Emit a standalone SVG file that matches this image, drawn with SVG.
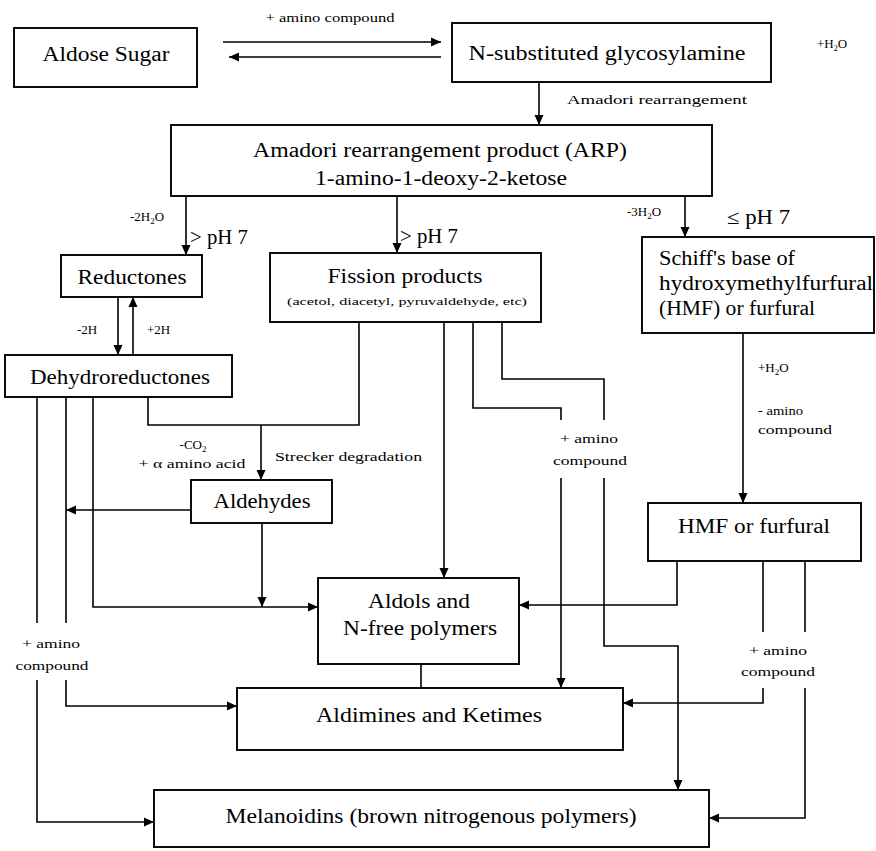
<svg xmlns="http://www.w3.org/2000/svg" width="876" height="851" viewBox="0 0 876 851">
<defs>
<marker id="ah" markerWidth="10" markerHeight="10" refX="10" refY="5" orient="auto" markerUnits="userSpaceOnUse"><path d="M0,0.5 L10,5 L0,9.5 z" fill="#000"/></marker>
<style>
.box{fill:#fff;stroke:#000;stroke-width:1.9}
.ln{fill:none;stroke:#000;stroke-width:1.6}
.arr{marker-end:url(#ah)}
text{font-family:"Liberation Serif","Times New Roman",serif;fill:#000}
.t{font-size:20px;text-anchor:middle}
.l{font-size:20px}
.s{font-size:13px}
.m{text-anchor:middle}
</style>
</defs>
<rect width="876" height="851" fill="#fff"/>
<g id="connectors">
<path class="ln arr" d="M223,42 H441"/>
<path class="ln arr" d="M441,57 H229"/>
<path class="ln arr" d="M539,82 V125"/>
<path class="ln arr" d="M186,196 V255"/>
<path class="ln arr" d="M397,196 V253"/>
<path class="ln arr" d="M685,196 V237"/>
<path class="ln arr" d="M118,297 V355"/>
<path class="ln arr" d="M133,355 V297"/>
<path class="ln" d="M148,397 V425 H359 V322"/>
<path class="ln arr" d="M261,425 V480"/>
<path class="ln arr" d="M191,510 H66"/>
<path class="ln arr" d="M262,523 V607"/>
<path class="ln arr" d="M93,397 V607 H318"/>
<path class="ln arr" d="M444,322 V578"/>
<path class="ln" d="M473,322 V408 H561 V420"/>
<path class="ln arr" d="M561,478 V688"/>
<path class="ln" d="M502,322 V379 H604 V420"/>
<path class="ln arr" d="M604,478 V646 H678 V790"/>
<path class="ln arr" d="M743,333 V503"/>
<path class="ln arr" d="M677,561 V605 H519"/>
<path class="ln" d="M763,561 V632"/>
<path class="ln arr" d="M763,688 V703 H623"/>
<path class="ln" d="M805,561 V632"/>
<path class="ln arr" d="M805,688 V818 H709"/>
<path class="ln" d="M421,664 V688"/>
<path class="ln" d="M37,397 V623"/>
<path class="ln arr" d="M37,680 V822 H154"/>
<path class="ln" d="M66,397 V623"/>
<path class="ln arr" d="M66,680 V706 H237"/>
</g>
<g id="labels">
<text class="s m" x="330" y="22" textLength="129" lengthAdjust="spacingAndGlyphs">+ amino compound</text>
<text class="s" x="817" y="48" font-size="11">+H<tspan font-size="8" dy="3">2</tspan><tspan dy="-3">O</tspan></text>
<text class="s" x="567" y="104" textLength="180" lengthAdjust="spacingAndGlyphs">Amadori rearrangement</text>
<text class="s" x="130" y="221">-2H<tspan font-size="9" dy="3">2</tspan><tspan dy="-3">O</tspan></text>
<text class="l" x="190" y="244" textLength="58" lengthAdjust="spacingAndGlyphs">&gt; pH 7</text>
<text class="l" x="400" y="243" textLength="58" lengthAdjust="spacingAndGlyphs">&gt; pH 7</text>
<text class="s" x="627" y="216">-3H<tspan font-size="9" dy="3">2</tspan><tspan dy="-3">O</tspan></text>
<text class="l" x="727" y="224" textLength="63" lengthAdjust="spacingAndGlyphs">≤ pH 7</text>
<text class="s" x="77" y="334">-2H</text>
<text class="s" x="147" y="334">+2H</text>
<text class="s m" x="193" y="449">-CO<tspan font-size="9" dy="3">2</tspan></text>
<text class="s m" x="192" y="468" textLength="107" lengthAdjust="spacingAndGlyphs">+ α amino acid</text>
<text class="s" x="275" y="461" font-size="15" textLength="147" lengthAdjust="spacingAndGlyphs">Strecker degradation</text>
<text class="s" x="758" y="372">+H<tspan font-size="9" dy="3">2</tspan><tspan dy="-3">O</tspan></text>
<text class="s" x="758" y="415" textLength="45" lengthAdjust="spacingAndGlyphs">- amino</text>
<text class="s" x="758" y="434" textLength="74" lengthAdjust="spacingAndGlyphs">compound</text>
<text class="s m" x="589" y="443" textLength="58" lengthAdjust="spacingAndGlyphs">+ amino</text>
<text class="s m" x="590" y="465" textLength="74" lengthAdjust="spacingAndGlyphs">compound</text>
<text class="s m" x="51" y="648" textLength="58" lengthAdjust="spacingAndGlyphs">+ amino</text>
<text class="s m" x="52" y="670" textLength="73" lengthAdjust="spacingAndGlyphs">compound</text>
<text class="s m" x="778" y="655" textLength="58" lengthAdjust="spacingAndGlyphs">+ amino</text>
<text class="s m" x="778" y="676" textLength="74" lengthAdjust="spacingAndGlyphs">compound</text>
</g>
<g id="aldose"><rect class="box" x="14" y="28" width="183" height="59"/><text class="t" x="106" y="61" textLength="127" lengthAdjust="spacingAndGlyphs">Aldose Sugar</text></g>
<g id="glycosylamine"><rect class="box" x="452" y="23" width="319" height="59"/><text class="t" x="607" y="60" textLength="277" lengthAdjust="spacingAndGlyphs">N-substituted glycosylamine</text></g>
<g id="arp"><rect class="box" x="171" y="125" width="541" height="71"/><text class="t" x="440" y="157" textLength="374" lengthAdjust="spacingAndGlyphs">Amadori rearrangement product (ARP)</text><text class="t" x="441" y="185" textLength="252" lengthAdjust="spacingAndGlyphs">1-amino-1-deoxy-2-ketose</text></g>
<g id="reductones"><rect class="box" x="61" y="255" width="141" height="42"/><text class="t" x="132" y="284" textLength="109" lengthAdjust="spacingAndGlyphs">Reductones</text></g>
<g id="fission"><rect class="box" x="270" y="253" width="271" height="69"/><text class="t" x="405" y="283" font-size="21" textLength="155" lengthAdjust="spacingAndGlyphs">Fission products</text><text class="m" x="407" y="305" font-size="11" textLength="240" lengthAdjust="spacingAndGlyphs">(acetol, diacetyl, pyruvaldehyde, etc)</text></g>
<g id="schiff"><rect class="box" x="642" y="237" width="232" height="96"/><text class="l" x="659" y="265" textLength="136" lengthAdjust="spacingAndGlyphs">Schiff's base of</text><text class="l" x="659" y="290" textLength="214" lengthAdjust="spacingAndGlyphs">hydroxymethylfurfural</text><text class="l" x="659" y="315" textLength="156" lengthAdjust="spacingAndGlyphs">(HMF) or furfural</text></g>
<g id="dehydroreductones"><rect class="box" x="5" y="355" width="227" height="42"/><text class="t" x="120" y="384" textLength="180" lengthAdjust="spacingAndGlyphs">Dehydroreductones</text></g>
<g id="aldehydes"><rect class="box" x="191" y="480" width="141" height="43"/><text class="t" x="262" y="508" textLength="97" lengthAdjust="spacingAndGlyphs">Aldehydes</text></g>
<g id="aldols"><rect class="box" x="318" y="578" width="201" height="86"/><text class="t" x="419" y="608" textLength="102" lengthAdjust="spacingAndGlyphs">Aldols and</text><text class="t" x="420" y="635" textLength="154" lengthAdjust="spacingAndGlyphs">N-free polymers</text></g>
<g id="hmf"><rect class="box" x="648" y="503" width="213" height="58"/><text class="t" x="754" y="533" textLength="152" lengthAdjust="spacingAndGlyphs">HMF or furfural</text></g>
<g id="aldimines"><rect class="box" x="237" y="688" width="386" height="62"/><text class="t" x="429" y="722" textLength="226" lengthAdjust="spacingAndGlyphs">Aldimines and Ketimes</text></g>
<g id="melanoidins"><rect class="box" x="154" y="790" width="555" height="57"/><text class="t" x="431" y="823" textLength="411" lengthAdjust="spacingAndGlyphs">Melanoidins (brown nitrogenous polymers)</text></g>
</svg>
